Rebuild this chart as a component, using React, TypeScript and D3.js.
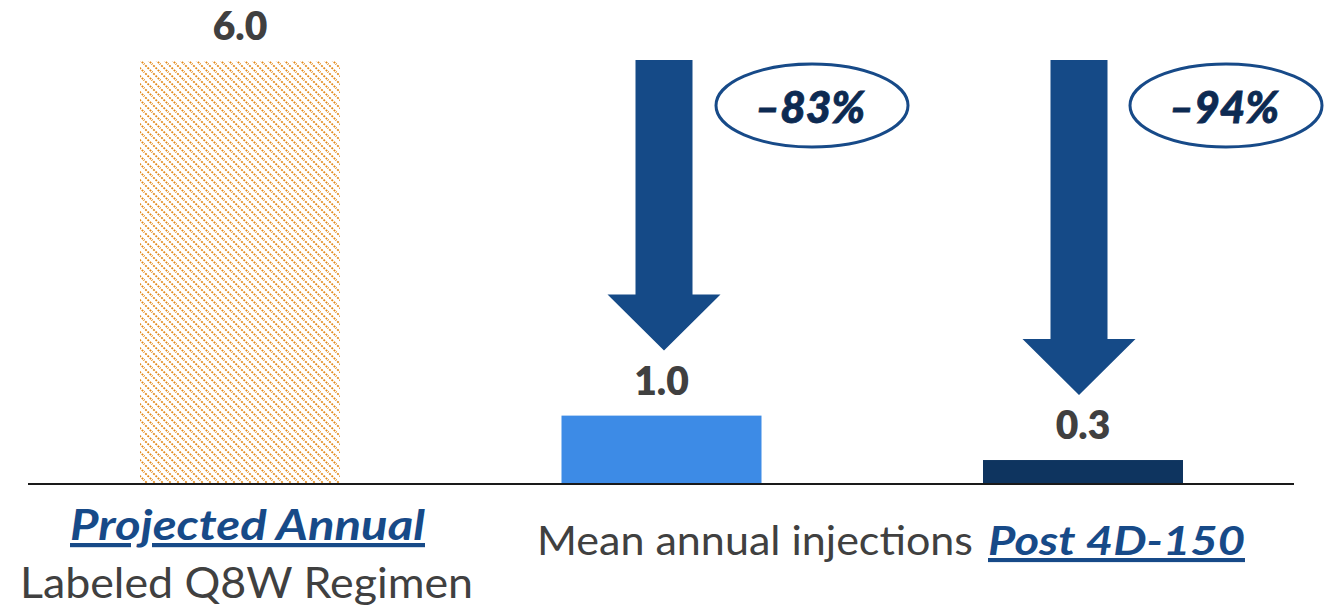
import React from 'react';
import * as d3 from 'd3';

// values
const categories = ['projected', 'year1', 'post'];
const values = [6.0, 0.97, 0.34];
const barColors = ['url(#hatch)', '#3d8be6', '#0e345f'];
const reductions = ['\u201383%', '\u201394%'];

const W = 1334;
const H = 608;
const FONT = 'Lato, "Open Sans", sans-serif';

export default function App() {
  const x = d3.scalePoint<string>().domain(categories).range([240, 1083]);
  const y = d3.scaleLinear().domain([0, 6]).range([484, 61]);
  const barW = 200;
  const baseY = y(0);

  // arrow geometry
  const shaftW = 57;
  const headW = 113;
  const headH = 56;
  const arrowTop = y(values[0]) - 1;

  const arrowPath = (cx: number, tipY: number) => {
    const p = d3.path();
    p.moveTo(cx - shaftW / 2, arrowTop);
    p.lineTo(cx + shaftW / 2, arrowTop);
    p.lineTo(cx + shaftW / 2, tipY - headH);
    p.lineTo(cx + headW / 2, tipY - headH);
    p.lineTo(cx, tipY);
    p.lineTo(cx - headW / 2, tipY - headH);
    p.lineTo(cx - shaftW / 2, tipY - headH);
    p.closePath();
    return p.toString();
  };

  const arrowX = [664, 1079];
  const ellipseX = [812, 1226];

  return (
    <svg
      width={W}
      height={H}
      style={{ position: 'absolute', left: 0, top: 0, display: 'block', background: '#fff' }}
    >
      <defs>
        <pattern id="hatch" width="8" height="8" patternUnits="userSpaceOnUse">
          <path
            d="M-1,-1 L9,9 M-1,7 L1,9 M7,-1 L9,1"
            stroke="#e38a1a"
            strokeWidth={1.8}
            strokeDasharray="2,1.2"
          />
        </pattern>
      </defs>

      {/* bars */}
      {categories.map((c, i) => (
        <rect
          key={c}
          x={(x(c) as number) - barW / 2}
          y={y(values[i])}
          width={barW}
          height={baseY - y(values[i])}
          fill={barColors[i]}
        />
      ))}

      {/* baseline */}
      <line x1={28} x2={1294} y1={baseY} y2={baseY} stroke="#1a1a1a" strokeWidth={2} />

      {/* value labels */}
      {categories.map((c, i) => (
        <text
          key={c}
          x={x(c) as number}
          y={y(values[i]) - 21}
          textAnchor="middle"
          fontFamily={FONT}
          fontWeight={800}
          fontSize={39}
          fill="#404040"
        >
          {values[i].toFixed(1)}
        </text>
      ))}

      {/* arrows + reduction ovals */}
      {reductions.map((r, i) => (
        <g key={r}>
          <path d={arrowPath(arrowX[i], y(values[i + 1]) - 65)} fill="#154a87" />
          <ellipse
            cx={ellipseX[i]}
            cy={105.5}
            rx={96}
            ry={41.5}
            fill="#fff"
            stroke="#174a88"
            strokeWidth={3}
          />
          <text
            x={ellipseX[i] - 2}
            y={123}
            textAnchor="middle"
            fontFamily={FONT}
            fontWeight={900}
            fontStyle="italic"
            fontSize={44}
            fill="#0d2a52"
            stroke="#0d2a52"
            strokeWidth={0.8}
          >
            {r}
          </text>
        </g>
      ))}

      {/* bottom labels */}
      <text
        x={70}
        y={540}
        textLength={355}
        lengthAdjust="spacingAndGlyphs"
        fontFamily={FONT}
        fontWeight={700}
        fontStyle="italic"
        fontSize={42}
        fill="#174a88"
        textDecoration="underline"
      >
        Projected Annual
      </text>
      <text
        x={20}
        y={598}
        textLength={453}
        lengthAdjust="spacingAndGlyphs"
        fontFamily={FONT}
        fontSize={42}
        fill="#404040"
      >
        Labeled Q8W Regimen
      </text>
      <text
        x={537}
        y={555}
        textLength={436}
        lengthAdjust="spacingAndGlyphs"
        fontFamily={FONT}
        fontSize={41}
        fill="#404040"
      >
        Mean annual injections
      </text>
      <text
        x={988}
        y={555}
        textLength={257}
        lengthAdjust="spacingAndGlyphs"
        fontFamily={FONT}
        fontWeight={700}
        fontStyle="italic"
        fontSize={41}
        fill="#174a88"
        textDecoration="underline"
      >
        Post 4D-150
      </text>
    </svg>
  );
}
